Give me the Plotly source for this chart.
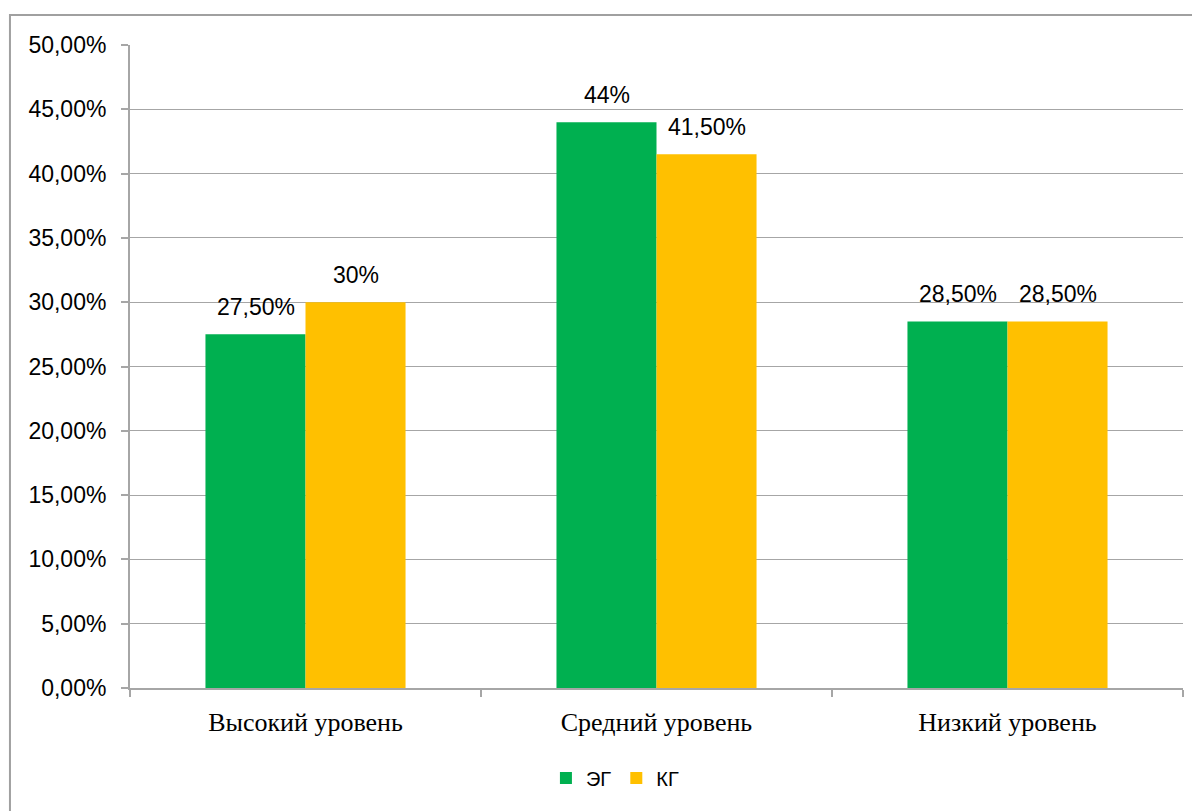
import plotly.graph_objects as go

categories = ["Высокий уровень", "Средний уровень", "Низкий уровень"]
eg_values = [0.275, 0.44, 0.285]
kg_values = [0.30, 0.415, 0.285]
eg_labels = ["27,50%", "44%", "28,50%"]
kg_labels = ["30%", "41,50%", "28,50%"]
series_names = ["ЭГ", "КГ"]
y_ticks = [0, 0.05, 0.10, 0.15, 0.20, 0.25, 0.30, 0.35, 0.40, 0.45, 0.50]

GRID = "#a6a6a6"
SANS = "Liberation Sans, Arial, sans-serif"
label_font = dict(family=SANS, size=23, color="#000000")

fig = go.Figure()
fig.add_trace(go.Bar(
    x=categories, y=eg_values, name=series_names[0],
    marker=dict(color="#00B050", line=dict(width=0)),
))
fig.add_trace(go.Bar(
    x=categories, y=kg_values, name=series_names[1],
    marker=dict(color="#FFC000", line=dict(width=0)),
))

annotations = []
for cat, v, t in zip(categories, eg_values, eg_labels):
    annotations.append(dict(x=cat, y=v, text=t, xref="x", yref="y", showarrow=False,
                            xshift=-50, yshift=12, yanchor="bottom", font=label_font))
for cat, v, t in zip(categories, kg_values, kg_labels):
    annotations.append(dict(x=cat, y=v, text=t, xref="x", yref="y", showarrow=False,
                            xshift=50, yshift=12, yanchor="bottom", font=label_font))

fig.update_layout(
    width=1192, height=803,
    margin=dict(l=122, r=17, t=37, b=123),
    paper_bgcolor="white", plot_bgcolor="white",
    barmode="group", bargap=0.43, bargroupgap=0,
    separators=", ",
    showlegend=True,
    legend=dict(orientation="h", x=0.461, xanchor="center", y=-0.14, yanchor="middle",
                font=dict(family=SANS, size=20, color="#000"),
                itemwidth=30, tracegroupgap=0, traceorder="normal"),
    xaxis=dict(
        type="category", showgrid=False, showline=True, linecolor=GRID, linewidth=2,
        ticks="outside", tickson="boundaries", ticklen=7, tickcolor=GRID, tickwidth=2,
        tickfont=dict(family="Liberation Serif, Times New Roman, serif", size=26, color="#000"),
        ticklabelstandoff=10,
    ),
    yaxis=dict(
        range=[0, 0.5], tickvals=y_ticks, tickformat=".2%",
        showgrid=True, gridcolor=GRID, gridwidth=1,
        showline=True, linecolor=GRID, linewidth=2,
        ticks="outside", ticklen=7, tickcolor=GRID, tickwidth=2,
        tickfont=dict(family=SANS, size=23, color="#000"),
        zeroline=False, ticklabelstandoff=10,
    ),
    annotations=annotations,
    shapes=[dict(type="rect", xref="paper", yref="paper",
                 x0=-0.114, x1=1.2, y0=-0.4, y1=1.0467,
                 line=dict(color="#a0a0a0", width=2), fillcolor="rgba(0,0,0,0)", layer="below")],
)

fig.write_html("out.html")
